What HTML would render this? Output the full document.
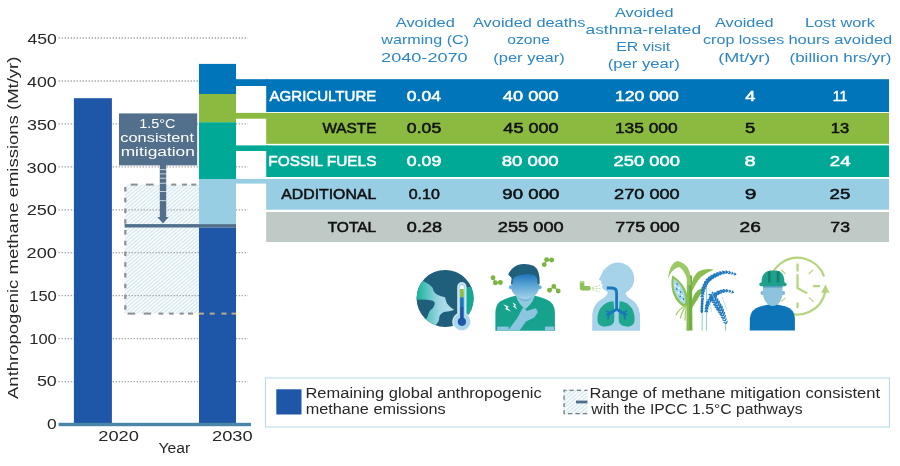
<!DOCTYPE html>
<html lang="en">
<head>
<meta charset="utf-8">
<title>Methane mitigation benefits</title>
<style>
html,body{margin:0;padding:0;background:#fff;}
body{width:900px;height:466px;overflow:hidden;}
svg{display:block;}
</style>
</head>
<body>
<svg width="900" height="466" viewBox="0 0 900 466" font-family="'Liberation Sans', Arial, sans-serif">
<defs>
<pattern id="hatch" width="2.8" height="2.8" patternUnits="userSpaceOnUse" patternTransform="rotate(-40)">
<rect width="2.8" height="2.8" fill="#f6fbfd"/>
<rect width="2.8" height="0.9" fill="#d0e3eb"/>
</pattern>
</defs>
<rect width="900" height="466" fill="#fff"/>
<g stroke="#a6a6a6" stroke-width="1.3" stroke-dasharray="1.4 1.6">
<line x1="58.6" x2="248" y1="381.6" y2="381.6"/>
<line x1="58.6" x2="248" y1="338.6" y2="338.6"/>
<line x1="58.6" x2="248" y1="295.7" y2="295.7"/>
<line x1="58.6" x2="248" y1="252.7" y2="252.7"/>
<line x1="58.6" x2="248" y1="209.8" y2="209.8"/>
<line x1="58.6" x2="248" y1="166.9" y2="166.9"/>
<line x1="58.6" x2="248" y1="123.9" y2="123.9"/>
<line x1="58.6" x2="248" y1="81.0" y2="81.0"/>
<line x1="58.6" x2="248" y1="38.0" y2="38.0"/>
</g>
<rect x="124.6" y="184.6" width="75" height="129" fill="url(#hatch)"/>
<g stroke="#a6a6a6" stroke-width="1.3" stroke-dasharray="1.4 1.6">
<line x1="125.5" x2="199" y1="295.7" y2="295.7"/>
<line x1="125.5" x2="199" y1="252.7" y2="252.7"/>
<line x1="125.5" x2="199" y1="209.8" y2="209.8"/>
</g>
<rect x="130.7" y="183.6" width="7.0" height="2.0" fill="#8a8f90"/>
<rect x="146.0" y="183.6" width="7.6" height="2.0" fill="#8a8f90"/>
<rect x="160.0" y="183.6" width="6.0" height="2.0" fill="#8a8f90"/>
<rect x="171.2" y="183.6" width="5.0" height="2.0" fill="#8a8f90"/>
<rect x="182.0" y="183.6" width="5.0" height="2.0" fill="#8a8f90"/>
<rect x="191.3" y="183.6" width="5.0" height="2.0" fill="#8a8f90"/>
<rect x="127.6" y="312.6" width="7.6" height="2.0" fill="#8a8f90"/>
<rect x="143.6" y="312.6" width="7.5" height="2.0" fill="#8a8f90"/>
<rect x="158.6" y="312.6" width="4.7" height="2.0" fill="#8a8f90"/>
<rect x="169.0" y="312.6" width="4.7" height="2.0" fill="#8a8f90"/>
<rect x="179.6" y="312.6" width="4.2" height="2.0" fill="#8a8f90"/>
<rect x="187.9" y="312.6" width="5.1" height="2.0" fill="#8a8f90"/>
<path d="M125.3 187V313" stroke="#8a8f90" stroke-width="2.2" stroke-dasharray="4.5 6.25" fill="none"/>
<rect x="73.9" y="98.2" width="38" height="324.8" fill="#1f57a8"/>
<rect x="199" y="63.9" width="37" height="30.2" fill="#0075b9"/>
<rect x="199" y="94" width="37" height="28.5" fill="#8aba40"/>
<rect x="199" y="122.3" width="37" height="57" fill="#00a996"/>
<rect x="199" y="179" width="37" height="45.3" fill="#97cee3"/>
<rect x="199" y="227.4" width="37" height="195.6" fill="#1f57a8"/>
<rect x="198.8" y="312.6" width="5.1" height="2.0" fill="#b9ab8c"/>
<rect x="209.7" y="312.6" width="5.0" height="2.0" fill="#b9ab8c"/>
<rect x="221.4" y="312.6" width="5.1" height="2.0" fill="#b9ab8c"/>
<rect x="231.5" y="312.6" width="4.7" height="2.0" fill="#b9ab8c"/>
<rect x="124.6" y="224.1" width="111.4" height="3.4" fill="#52708c"/>
<rect x="119" y="113.4" width="78.2" height="52" fill="#52708c"/>
<rect x="159.8" y="165" width="6.4" height="53" fill="#52708c"/>
<rect x="159.8" y="169.3" width="6.4" height="0.8" fill="#dfe8ee"/>
<rect x="159.8" y="173.5" width="6.4" height="0.8" fill="#dfe8ee"/>
<rect x="159.8" y="177.8" width="6.4" height="0.8" fill="#dfe8ee"/>
<rect x="159.8" y="182.8" width="6.4" height="0.8" fill="#dfe8ee"/>
<rect x="159.8" y="191.2" width="6.4" height="0.8" fill="#dfe8ee"/>
<rect x="159.8" y="200.3" width="6.4" height="0.8" fill="#dfe8ee"/>
<path d="M157.3 217H168.7L163 223.4Z" fill="#52708c"/>
<text x="139.15" y="127.60" font-size="13.7" textLength="36.30" lengthAdjust="spacingAndGlyphs" fill="#fff">1.5°C</text>
<text x="120.34" y="141.90" font-size="13.7" textLength="73.70" lengthAdjust="spacingAndGlyphs" fill="#fff">consistent</text>
<text x="120.66" y="156.10" font-size="13.7" textLength="74.26" lengthAdjust="spacingAndGlyphs" fill="#fff">mitigation</text>
<rect x="58.6" y="422.8" width="192.4" height="3.4" fill="#4a86a8"/>
<text x="27.42" y="44.26" font-size="14" textLength="29.38" lengthAdjust="spacingAndGlyphs" fill="#272727">450</text>
<text x="27.12" y="87.02" font-size="14" textLength="29.59" lengthAdjust="spacingAndGlyphs" fill="#272727">400</text>
<text x="26.96" y="129.78" font-size="14" textLength="29.85" lengthAdjust="spacingAndGlyphs" fill="#272727">350</text>
<text x="26.55" y="172.54" font-size="14" textLength="30.38" lengthAdjust="spacingAndGlyphs" fill="#272727">300</text>
<text x="26.69" y="215.30" font-size="14" textLength="30.23" lengthAdjust="spacingAndGlyphs" fill="#272727">250</text>
<text x="26.59" y="258.06" font-size="14" textLength="30.23" lengthAdjust="spacingAndGlyphs" fill="#272727">200</text>
<text x="29.26" y="300.82" font-size="14" textLength="27.49" lengthAdjust="spacingAndGlyphs" fill="#272727">150</text>
<text x="29.26" y="343.58" font-size="14" textLength="27.49" lengthAdjust="spacingAndGlyphs" fill="#272727">100</text>
<text x="36.90" y="386.34" font-size="14" textLength="19.87" lengthAdjust="spacingAndGlyphs" fill="#272727">50</text>
<text x="47.08" y="429.10" font-size="14" textLength="9.69" lengthAdjust="spacingAndGlyphs" fill="#272727">0</text>
<text x="98.29" y="441.30" font-size="14" textLength="40.62" lengthAdjust="spacingAndGlyphs" fill="#272727">2020</text>
<text x="211.98" y="441.30" font-size="14" textLength="40.73" lengthAdjust="spacingAndGlyphs" fill="#272727">2030</text>
<text x="158.46" y="453.00" font-size="14" textLength="31.75" lengthAdjust="spacingAndGlyphs" fill="#272727">Year</text>
<g transform="translate(17.6 399) rotate(-90)">
<text x="0.00" y="0.00" font-size="14" textLength="342.44" lengthAdjust="spacingAndGlyphs" fill="#272727">Anthropogenic methane emissions (Mt/yr)</text>
</g>
<rect x="266.2" y="79.2" width="622.8" height="32.8" fill="#0075b9"/>
<rect x="235.5" y="79.2" width="32" height="6.8" fill="#0075b9"/>
<rect x="266.2" y="112.9" width="622.8" height="30.9" fill="#8aba40"/>
<rect x="235.5" y="112.9" width="32" height="5.8" fill="#8aba40"/>
<rect x="266.2" y="145.4" width="622.8" height="31.6" fill="#00a996"/>
<rect x="235.5" y="145.4" width="32" height="5.6" fill="#00a996"/>
<rect x="266.2" y="178.9" width="622.8" height="30.8" fill="#97cee3"/>
<rect x="235.5" y="178.9" width="32" height="4.7" fill="#97cee3"/>
<rect x="266.2" y="212" width="622.8" height="30.0" fill="#bfc9c6"/>
<text x="269.50" y="100.50" font-size="14" textLength="106.90" lengthAdjust="spacingAndGlyphs" fill="#fff" stroke="#fff" stroke-width="0.5">AGRICULTURE</text>
<text x="406.87" y="100.50" font-size="14" textLength="34.12" lengthAdjust="spacingAndGlyphs" fill="#fff" stroke="#fff" stroke-width="0.5">0.04</text>
<text x="502.86" y="100.50" font-size="14" textLength="55.82" lengthAdjust="spacingAndGlyphs" fill="#fff" stroke="#fff" stroke-width="0.5">40 000</text>
<text x="614.93" y="100.50" font-size="14" textLength="63.77" lengthAdjust="spacingAndGlyphs" fill="#fff" stroke="#fff" stroke-width="0.5">120 000</text>
<text x="745.36" y="100.50" font-size="14" textLength="10.14" lengthAdjust="spacingAndGlyphs" fill="#fff" stroke="#fff" stroke-width="0.5">4</text>
<text x="832.74" y="100.50" font-size="14" textLength="14.70" lengthAdjust="spacingAndGlyphs" fill="#fff" stroke="#fff" stroke-width="0.5">11</text>
<text x="322.45" y="133.20" font-size="14" textLength="53.97" lengthAdjust="spacingAndGlyphs" fill="#111" stroke="#111" stroke-width="0.5">WASTE</text>
<text x="406.87" y="133.20" font-size="14" textLength="34.39" lengthAdjust="spacingAndGlyphs" fill="#111" stroke="#111" stroke-width="0.5">0.05</text>
<text x="503.36" y="133.20" font-size="14" textLength="55.31" lengthAdjust="spacingAndGlyphs" fill="#111" stroke="#111" stroke-width="0.5">45 000</text>
<text x="614.95" y="133.20" font-size="14" textLength="62.74" lengthAdjust="spacingAndGlyphs" fill="#111" stroke="#111" stroke-width="0.5">135 000</text>
<text x="745.03" y="133.20" font-size="14" textLength="10.24" lengthAdjust="spacingAndGlyphs" fill="#111" stroke="#111" stroke-width="0.5">5</text>
<text x="830.76" y="133.20" font-size="14" textLength="18.42" lengthAdjust="spacingAndGlyphs" fill="#111" stroke="#111" stroke-width="0.5">13</text>
<text x="268.29" y="166.00" font-size="14" textLength="108.16" lengthAdjust="spacingAndGlyphs" fill="#fff" stroke="#fff" stroke-width="0.5">FOSSIL FUELS</text>
<text x="406.87" y="166.00" font-size="14" textLength="34.45" lengthAdjust="spacingAndGlyphs" fill="#fff" stroke="#fff" stroke-width="0.5">0.09</text>
<text x="501.70" y="166.00" font-size="14" textLength="56.99" lengthAdjust="spacingAndGlyphs" fill="#fff" stroke="#fff" stroke-width="0.5">80 000</text>
<text x="613.58" y="166.00" font-size="14" textLength="66.40" lengthAdjust="spacingAndGlyphs" fill="#fff" stroke="#fff" stroke-width="0.5">250 000</text>
<text x="744.64" y="166.00" font-size="14" textLength="11.21" lengthAdjust="spacingAndGlyphs" fill="#fff" stroke="#fff" stroke-width="0.5">8</text>
<text x="829.87" y="166.00" font-size="14" textLength="20.73" lengthAdjust="spacingAndGlyphs" fill="#fff" stroke="#fff" stroke-width="0.5">24</text>
<text x="281.25" y="199.10" font-size="14" textLength="94.97" lengthAdjust="spacingAndGlyphs" fill="#111" stroke="#111" stroke-width="0.5">ADDITIONAL</text>
<text x="408.68" y="199.10" font-size="14" textLength="31.20" lengthAdjust="spacingAndGlyphs" fill="#111" stroke="#111" stroke-width="0.5">0.10</text>
<text x="502.38" y="199.10" font-size="14" textLength="57.06" lengthAdjust="spacingAndGlyphs" fill="#111" stroke="#111" stroke-width="0.5">90 000</text>
<text x="614.09" y="199.10" font-size="14" textLength="65.63" lengthAdjust="spacingAndGlyphs" fill="#111" stroke="#111" stroke-width="0.5">270 000</text>
<text x="744.77" y="199.10" font-size="14" textLength="11.68" lengthAdjust="spacingAndGlyphs" fill="#111" stroke="#111" stroke-width="0.5">9</text>
<text x="829.57" y="199.10" font-size="14" textLength="20.69" lengthAdjust="spacingAndGlyphs" fill="#111" stroke="#111" stroke-width="0.5">25</text>
<text x="327.67" y="231.90" font-size="14" textLength="48.55" lengthAdjust="spacingAndGlyphs" fill="#111" stroke="#111" stroke-width="0.5">TOTAL</text>
<text x="406.85" y="231.90" font-size="14" textLength="35.17" lengthAdjust="spacingAndGlyphs" fill="#111" stroke="#111" stroke-width="0.5">0.28</text>
<text x="497.84" y="231.90" font-size="14" textLength="65.88" lengthAdjust="spacingAndGlyphs" fill="#111" stroke="#111" stroke-width="0.5">255 000</text>
<text x="615.36" y="231.90" font-size="14" textLength="64.35" lengthAdjust="spacingAndGlyphs" fill="#111" stroke="#111" stroke-width="0.5">775 000</text>
<text x="739.55" y="231.90" font-size="14" textLength="21.23" lengthAdjust="spacingAndGlyphs" fill="#111" stroke="#111" stroke-width="0.5">26</text>
<text x="830.37" y="231.90" font-size="14" textLength="19.60" lengthAdjust="spacingAndGlyphs" fill="#111" stroke="#111" stroke-width="0.5">73</text>
<text x="395.75" y="27.00" font-size="13.6" textLength="59.03" lengthAdjust="spacingAndGlyphs" fill="#2b86c6">Avoided</text>
<text x="381.31" y="44.30" font-size="13.6" textLength="87.70" lengthAdjust="spacingAndGlyphs" fill="#2b86c6">warming (C)</text>
<text x="381.14" y="61.50" font-size="13.6" textLength="86.52" lengthAdjust="spacingAndGlyphs" fill="#2b86c6">2040-2070</text>
<text x="473.00" y="27.00" font-size="13.6" textLength="112.56" lengthAdjust="spacingAndGlyphs" fill="#2b86c6">Avoided deaths</text>
<text x="507.37" y="44.30" font-size="13.6" textLength="42.52" lengthAdjust="spacingAndGlyphs" fill="#2b86c6">ozone</text>
<text x="493.28" y="61.50" font-size="13.6" textLength="71.50" lengthAdjust="spacingAndGlyphs" fill="#2b86c6">(per year)</text>
<text x="615.00" y="17.00" font-size="13.6" textLength="58.52" lengthAdjust="spacingAndGlyphs" fill="#2b86c6">Avoided</text>
<text x="585.55" y="34.25" font-size="13.6" textLength="115.55" lengthAdjust="spacingAndGlyphs" fill="#2b86c6">asthma-related</text>
<text x="616.21" y="51.25" font-size="13.6" textLength="53.90" lengthAdjust="spacingAndGlyphs" fill="#2b86c6">ER visit</text>
<text x="607.77" y="68.25" font-size="13.6" textLength="72.02" lengthAdjust="spacingAndGlyphs" fill="#2b86c6">(per year)</text>
<text x="715.00" y="27.00" font-size="13.6" textLength="58.52" lengthAdjust="spacingAndGlyphs" fill="#2b86c6">Avoided</text>
<text x="703.10" y="44.30" font-size="13.6" textLength="81.16" lengthAdjust="spacingAndGlyphs" fill="#2b86c6">crop losses</text>
<text x="718.19" y="61.50" font-size="13.6" textLength="52.16" lengthAdjust="spacingAndGlyphs" fill="#2b86c6">(Mt/yr)</text>
<text x="804.93" y="27.00" font-size="13.6" textLength="70.01" lengthAdjust="spacingAndGlyphs" fill="#2b86c6">Lost work</text>
<text x="788.41" y="44.30" font-size="13.6" textLength="103.87" lengthAdjust="spacingAndGlyphs" fill="#2b86c6">hours avoided</text>
<text x="789.50" y="61.50" font-size="13.6" textLength="102.02" lengthAdjust="spacingAndGlyphs" fill="#2b86c6">(billion hrs/yr)</text>
<rect x="265.5" y="378" width="624" height="49" fill="#fff" stroke="#b5d9e8" stroke-width="1"/>
<rect x="276.3" y="389.3" width="25.2" height="25.2" fill="#1f57a8"/>
<text x="305.46" y="397.50" font-size="14" textLength="236.26" lengthAdjust="spacingAndGlyphs" fill="#272727">Remaining global anthropogenic</text>
<text x="305.71" y="414.25" font-size="14" textLength="139.89" lengthAdjust="spacingAndGlyphs" fill="#272727">methane emissions</text>
<rect x="563.3" y="389.5" width="24.2" height="25" fill="url(#hatch)"/>
<path d="M587.5 390.3H564.1V413.7H587.5" fill="none" stroke="#6f7d84" stroke-width="1.3" stroke-dasharray="4.2 3.2" stroke-dashoffset="1"/>
<rect x="576" y="400.6" width="11.5" height="2.8" fill="#52708c"/>
<text x="589.45" y="397.50" font-size="14" textLength="290.63" lengthAdjust="spacingAndGlyphs" fill="#272727">Range of methane mitigation consistent</text>
<text x="591.31" y="414.25" font-size="14" textLength="211.23" lengthAdjust="spacingAndGlyphs" fill="#272727">with the IPCC 1.5°C pathways</text>
<defs>
<linearGradient id="landg" gradientUnits="userSpaceOnUse" x1="417" y1="300" x2="453" y2="300">
<stop offset="0" stop-color="#18b29d"/><stop offset="0.3" stop-color="#5cc5c1"/><stop offset="0.62" stop-color="#9fd6e3"/><stop offset="1" stop-color="#b8e0ee"/>
</linearGradient>
<clipPath id="globeclip"><circle cx="445.1" cy="298.4" r="28.5"/></clipPath>
<linearGradient id="faceg" gradientUnits="userSpaceOnUse" x1="0" y1="272" x2="0" y2="300">
<stop offset="0.05" stop-color="#1a72b8"/><stop offset="0.5" stop-color="#5ea7d6"/><stop offset="1" stop-color="#a9d6ea"/>
</linearGradient>
</defs>
<!-- icon 1: globe + thermometer -->
<g id="icon-globe">
<circle cx="445.1" cy="298.4" r="28.5" fill="#1f5f7b"/>
<g clip-path="url(#globeclip)">
<path d="M410,268 L423,281 Q428,283 432.5,287.5 Q433,291.5 436,294 Q440,296.5 445,297.3 Q446,301 447,303.5 Q449,306.5 454.3,310.1 Q449,311.5 444,312 Q440,314 439.3,317 Q439.5,321.5 435,325.5 L430,334 L416,326 L427,318 Q428.5,313 430,310.5 Q434.5,307.5 434.8,303 Q434,300.5 430,300.2 Q424,299 414,300 L406,300 Z" fill="url(#landg)"/>
<path d="M463,288.5 Q470,285.5 476,289 L480,300 L470,316 Q466,312.5 463,312.5 Z" fill="#18a695"/>
</g>
<path d="M457.8,286.7 a4.05,4.05 0 0 1 8.1,0 V313.8 a9,9 0 1 1 -8.1,0 Z" fill="#a8d7eb" stroke="#ffffff" stroke-opacity="0.75" stroke-width="1.2"/>
<rect x="460.1" y="285.3" width="3.6" height="8" rx="1.8" fill="#ffffff"/>
<rect x="460.1" y="289" width="3.6" height="8.4" fill="#8cbb3f"/>
<rect x="460.1" y="297.3" width="3.6" height="9.8" fill="#1a76bc"/>
<rect x="460.1" y="307" width="3.6" height="13" fill="#1f56a8"/>
<circle cx="461.9" cy="321.8" r="4.1" fill="#1f56a8"/>
</g>
<!-- icon 2: person with chest pain -->
<g id="icon-person">
<path d="M495.4,330.7 V312.5 Q495.6,305 500,301.5 Q505,298 517.7,295.2 L533.4,295.2 Q545,298 550,301.5 Q554.7,305 554.9,312.5 V330.7 Z" fill="#16a28d"/>
<rect x="497.1" y="326.6" width="11.6" height="4.1" fill="#8cc5df"/>
<rect x="545" y="326.6" width="9.1" height="4.1" fill="#8cc5df"/>
<path d="M516.2,293 L516.4,297 Q519,304.5 525.2,309 Q531.5,304.5 534.4,297 L534.6,293 Z" fill="#93cae2"/>
<path d="M518,297.5 Q525.4,305.5 532.6,297.5 L531.5,295 H519.2 Z" fill="#74b6d9"/>
<path d="M508.2,274.5 Q511,268 517,265.2 Q525.5,262.3 534,266 Q540.2,270 539.6,284 L511,284 L511.6,278 Z" fill="#1f5f7b"/>
<circle cx="510.8" cy="287.3" r="2" fill="#6cb0da"/>
<circle cx="539.6" cy="287.3" r="2" fill="#6cb0da"/>
<path d="M512.6,283.4 L512.8,279 Q515,276 519,275.3 Q527,273 533,274.5 Q537,276 537.4,280 L537.6,283.4 L539,284 L539,288.5 Q538,294 532,297.6 Q525.5,301.4 519,297.6 Q512,294 511.3,288.5 L511.3,284 Z" fill="url(#faceg)"/>
<path d="M507.8,330.7 L517.7,317.5 L521,310.9 Q522.5,307.2 524.5,308 L526.8,310.9 L535.2,308.3 Q537.8,309.5 537.6,312.5 L534.3,317.5 L526,321.6 L519.4,330.7 Z" fill="#8cc5df"/>
<path d="M503.2,304.2 L508.6,306.6 L507.3,307.9 L511,311.6 L505.2,308.9 L506.5,307.6 Z" fill="#ffffff"/>
<path d="M512.6,302.2 L516,304.8 L515,305.8 L517.2,309.4 L513.2,306.4 L514.2,305.4 Z" fill="#ffffff"/>
<g fill="#7ab53f" stroke="#7ab53f" stroke-width="1.1">
<path d="M493,277.8 L495.4,282.8 L500.4,282.5" fill="none"/>
<circle cx="493" cy="277.8" r="1.9"/><circle cx="495.4" cy="282.8" r="1.9"/><circle cx="500.4" cy="282.5" r="1.9"/>
<path d="M544.2,264.6 L546.6,259.7 L551.6,260" fill="none"/>
<circle cx="544.2" cy="264.6" r="1.9"/><circle cx="546.6" cy="259.7" r="1.9"/><circle cx="551.6" cy="260" r="1.9"/>
<path d="M549.5,290.2 L553.8,286.4 L558.2,291" fill="none"/>
<circle cx="549.5" cy="290.2" r="1.9"/><circle cx="553.8" cy="286.4" r="1.9"/><circle cx="558.2" cy="291" r="1.9"/>
</g>
</g>
<!-- icon 3: lungs -->
<g id="icon-lungs">
<circle cx="618" cy="278.6" r="16.2" fill="#a6d3ea"/>
<path d="M604,269 L598.8,279.8 L601.8,281.2 L600.8,283.2 L603.2,284.4 L601.8,286.4 L603,289 L609,293 L614,280 Z" fill="#a6d3ea"/>
<path d="M607.6,288 V293 Q606.5,296.5 601,299.5 Q593.5,304 592.3,314 L592.2,330.7 H640.1 L640,314 Q638.8,304 631.5,299.5 Q625.8,296.5 625.2,292 V286 Z" fill="#a6d3ea"/>
<path d="M613.6,301.2 Q605,301.5 600.2,308.5 Q596.6,315 597.6,321.8 Q599,327 605.5,326.6 Q612.5,326 614,322 Q614.6,318 614.2,312 Z" fill="#1ea68f"/>
<path d="M619.6,301.2 Q627.5,301.5 632,308.5 Q635.4,315 634.4,321.8 Q633,327 626.8,326.6 Q620.4,326 619,322 Q618.4,318 618.8,312 Z" fill="#1ea68f"/>
<g fill="none" stroke="#1a76bc" stroke-width="2.8" stroke-linejoin="round">
<path d="M606.8,288 H611.8 Q616.6,288 616.6,292.8 V310.6"/>
<path d="M616.6,309.2 L606.6,315.4"/><path d="M616.6,309.2 L626.6,315.4"/>
<path d="M610.6,313 L606,311" stroke-width="1.7"/><path d="M609,314 L608,319.5" stroke-width="1.7"/>
<path d="M622.6,313 L627.2,311" stroke-width="1.7"/><path d="M624.2,314 L625.2,319.5" stroke-width="1.7"/>
</g>
<path d="M579.8,282.6 Q579.8,281 581.4,281 H582.8 Q584.4,281 584.4,282.6 V286 H589 Q590.6,286 590.6,287.6 V288.8 Q590.6,290.4 589,290.4 H582 Q579.8,290.4 579.8,288 Z" fill="#8cc05a"/>
<rect x="580.3" y="281" width="3.6" height="2.2" rx="1" fill="#b5d88f"/>
<g stroke="#a8d07f" stroke-width="0.8" stroke-dasharray="2 1.4" fill="none">
<path d="M592.2,287.4 L600.4,285.2"/><path d="M592.2,288.6 L600.6,288.6"/><path d="M592.2,289.8 L599.8,292"/>
</g>
</g>
<!-- icon 4: crops -->
<g id="icon-crops">
<path d="M687,276 Q689.5,274 692,276 L692.4,330.6 H686.7 Z" fill="#6fae3f"/>
<path d="M687,276 Q688,275 689.2,274.8 L689,330.6 H686.7 Z" fill="#86bd50"/>
<path d="M691,285 L690.4,277.2 Q689.8,271 687.6,267.6 Q684.5,262.6 677.3,260.9 Q673.3,262.3 671.8,265.3 Q669,270 667.9,279 Q670.5,272.3 673.9,269.8 Q676.5,267.4 679,267 Q681.5,268 683.2,270.8 Q685.5,274.3 686.6,277.5 L687.2,285 Z" fill="#9bc964"/>
<path d="M691.4,286 Q692.5,276.5 698.3,271.6 Q704.5,267.8 714,269.4 Q706.5,272.5 701,277 Q696.3,282 692.4,291 Z" fill="#8bc04f"/>
<path d="M691.4,303 Q692.8,295 697.5,290.6 Q700.5,288.3 704,287.2 Q702.3,292 699.3,296.6 Q696,302 692,308 Z" fill="#7db848"/>
<g transform="translate(679.1 291.4) rotate(-23)">
<path d="M0,-17.6 Q8,-6 6.2,6 Q4,15.5 0,17.6 Q-4,15.5 -6.2,6 Q-8,-6 0,-17.6Z" fill="#8bc04f"/>
<path d="M0,-14 Q5.4,-5 4,5 Q2.6,12 0,14 Q-2.6,12 -4,5 Q-5.4,-5 0,-14Z" fill="#a9daee"/>
<g fill="#ffffff"><circle cx="-1" cy="-7" r="0.9"/><circle cx="1.2" cy="-3" r="0.9"/><circle cx="-1.2" cy="1" r="0.9"/><circle cx="1" cy="5" r="0.9"/><circle cx="-0.5" cy="9" r="0.8"/></g>
<g fill="#1a76bc"><circle cx="1" cy="-7.5" r="0.8"/><circle cx="-1.2" cy="-3" r="0.8"/><circle cx="1.2" cy="1.2" r="0.8"/><circle cx="-1" cy="5" r="0.8"/><circle cx="1" cy="8.8" r="0.8"/></g>
</g>
<g stroke="#a6cf72" stroke-width="1.3" fill="none" stroke-linecap="round">
<path d="M685,306 Q679,309 676,315"/><path d="M685.5,307 Q682,311 680.5,318"/><path d="M686.5,307.5 Q685,313 685,320"/>
</g>
<g stroke="#86cbcf" stroke-width="1" fill="none">
<path d="M702.2,330.6 V296"/><path d="M706.4,330.6 V285"/><path d="M725.6,330.6 V322"/>
</g>
<g fill="#1f78be">
<ellipse cx="702.8" cy="296.0" rx="1.72" ry="0.86" transform="rotate(-115 702.8 296.0)"/><ellipse cx="701.7" cy="295.9" rx="1.72" ry="0.86" transform="rotate(-51 701.7 295.9)"/><ellipse cx="703.3" cy="293.1" rx="1.87" ry="0.94" transform="rotate(-113 703.3 293.1)"/><ellipse cx="702.0" cy="292.9" rx="1.87" ry="0.94" transform="rotate(-49 702.0 292.9)"/><ellipse cx="703.8" cy="290.4" rx="2.01" ry="1.00" transform="rotate(-108 703.8 290.4)"/><ellipse cx="702.5" cy="290.0" rx="2.01" ry="1.00" transform="rotate(-44 702.5 290.0)"/><ellipse cx="704.7" cy="287.7" rx="2.12" ry="1.06" transform="rotate(-102 704.7 287.7)"/><ellipse cx="703.3" cy="287.2" rx="2.12" ry="1.06" transform="rotate(-38 703.3 287.2)"/><ellipse cx="705.8" cy="285.1" rx="2.21" ry="1.10" transform="rotate(-97 705.8 285.1)"/><ellipse cx="704.4" cy="284.4" rx="2.21" ry="1.10" transform="rotate(-33 704.4 284.4)"/><ellipse cx="707.2" cy="282.7" rx="2.27" ry="1.13" transform="rotate(-89 707.2 282.7)"/><ellipse cx="705.9" cy="281.8" rx="2.27" ry="1.13" transform="rotate(-25 705.9 281.8)"/><ellipse cx="708.9" cy="280.5" rx="2.30" ry="1.15" transform="rotate(-77 708.9 280.5)"/><ellipse cx="707.8" cy="279.4" rx="2.30" ry="1.15" transform="rotate(-13 707.8 279.4)"/><ellipse cx="711.0" cy="278.7" rx="2.29" ry="1.15" transform="rotate(-68 711.0 278.7)"/><ellipse cx="710.1" cy="277.4" rx="2.29" ry="1.15" transform="rotate(-4 710.1 277.4)"/><ellipse cx="713.4" cy="277.2" rx="2.26" ry="1.13" transform="rotate(-62 713.4 277.2)"/><ellipse cx="712.6" cy="275.8" rx="2.26" ry="1.13" transform="rotate(2 712.6 275.8)"/><ellipse cx="715.9" cy="275.8" rx="2.19" ry="1.10" transform="rotate(-57 715.9 275.8)"/><ellipse cx="715.2" cy="274.5" rx="2.19" ry="1.10" transform="rotate(7 715.2 274.5)"/><ellipse cx="718.5" cy="274.7" rx="2.10" ry="1.05" transform="rotate(-54 718.5 274.7)"/><ellipse cx="717.9" cy="273.3" rx="2.10" ry="1.05" transform="rotate(10 717.9 273.3)"/><ellipse cx="721.1" cy="273.7" rx="1.98" ry="0.99" transform="rotate(-48 721.1 273.7)"/><ellipse cx="720.8" cy="272.4" rx="1.98" ry="0.99" transform="rotate(16 720.8 272.4)"/><ellipse cx="723.9" cy="273.0" rx="1.84" ry="0.92" transform="rotate(-41 723.9 273.0)"/><ellipse cx="723.7" cy="271.8" rx="1.84" ry="0.92" transform="rotate(23 723.7 271.8)"/><ellipse cx="726.6" cy="272.8" rx="1.69" ry="0.84" transform="rotate(-29 726.6 272.8)"/><ellipse cx="726.7" cy="271.6" rx="1.69" ry="0.84" transform="rotate(35 726.7 271.6)"/><ellipse cx="729.4" cy="273.2" rx="1.52" ry="0.76" transform="rotate(-20 729.4 273.2)"/><ellipse cx="729.6" cy="272.1" rx="1.52" ry="0.76" transform="rotate(44 729.6 272.1)"/><ellipse cx="732.2" cy="273.8" rx="1.38" ry="0.69" transform="rotate(-15 732.2 273.8)"/><ellipse cx="732.5" cy="272.9" rx="1.38" ry="0.69" transform="rotate(49 732.5 272.9)"/><ellipse cx="735.0" cy="274.7" rx="1.38" ry="0.69" transform="rotate(-15 735.0 274.7)"/><ellipse cx="735.2" cy="273.8" rx="1.38" ry="0.69" transform="rotate(49 735.2 273.8)"/>
<ellipse cx="706.9" cy="310.9" rx="1.72" ry="0.86" transform="rotate(-116 706.9 310.9)"/><ellipse cx="705.7" cy="310.8" rx="1.72" ry="0.86" transform="rotate(-52 705.7 310.8)"/><ellipse cx="707.3" cy="308.0" rx="1.90" ry="0.95" transform="rotate(-114 707.3 308.0)"/><ellipse cx="706.0" cy="307.8" rx="1.90" ry="0.95" transform="rotate(-50 706.0 307.8)"/><ellipse cx="707.9" cy="305.3" rx="2.06" ry="1.03" transform="rotate(-107 707.9 305.3)"/><ellipse cx="706.5" cy="304.9" rx="2.06" ry="1.03" transform="rotate(-43 706.5 304.9)"/><ellipse cx="709.0" cy="302.8" rx="2.19" ry="1.09" transform="rotate(-95 709.0 302.8)"/><ellipse cx="707.7" cy="302.1" rx="2.19" ry="1.09" transform="rotate(-31 707.7 302.1)"/><ellipse cx="710.6" cy="300.5" rx="2.27" ry="1.13" transform="rotate(-86 710.6 300.5)"/><ellipse cx="709.3" cy="299.5" rx="2.27" ry="1.13" transform="rotate(-22 709.3 299.5)"/><ellipse cx="712.4" cy="298.3" rx="2.30" ry="1.15" transform="rotate(-79 712.4 298.3)"/><ellipse cx="711.2" cy="297.2" rx="2.30" ry="1.15" transform="rotate(-15 711.2 297.2)"/><ellipse cx="714.4" cy="296.3" rx="2.28" ry="1.14" transform="rotate(-73 714.4 296.3)"/><ellipse cx="713.3" cy="295.1" rx="2.28" ry="1.14" transform="rotate(-9 713.3 295.1)"/><ellipse cx="716.6" cy="294.6" rx="2.22" ry="1.11" transform="rotate(-66 716.6 294.6)"/><ellipse cx="715.7" cy="293.3" rx="2.22" ry="1.11" transform="rotate(-2 715.7 293.3)"/><ellipse cx="719.0" cy="293.2" rx="2.12" ry="1.06" transform="rotate(-56 719.0 293.2)"/><ellipse cx="718.4" cy="291.9" rx="2.12" ry="1.06" transform="rotate(8 718.4 291.9)"/><ellipse cx="721.6" cy="292.2" rx="1.97" ry="0.99" transform="rotate(-49 721.6 292.2)"/><ellipse cx="721.2" cy="290.8" rx="1.97" ry="0.99" transform="rotate(15 721.2 290.8)"/><ellipse cx="724.3" cy="291.5" rx="1.80" ry="0.90" transform="rotate(-41 724.3 291.5)"/><ellipse cx="724.1" cy="290.2" rx="1.80" ry="0.90" transform="rotate(23 724.1 290.2)"/><ellipse cx="727.0" cy="291.3" rx="1.60" ry="0.80" transform="rotate(-25 727.0 291.3)"/><ellipse cx="727.1" cy="290.2" rx="1.60" ry="0.80" transform="rotate(39 727.1 290.2)"/><ellipse cx="729.8" cy="291.8" rx="1.39" ry="0.69" transform="rotate(-18 729.8 291.8)"/><ellipse cx="730.0" cy="290.8" rx="1.39" ry="0.69" transform="rotate(46 730.0 290.8)"/><ellipse cx="732.5" cy="292.6" rx="1.38" ry="0.69" transform="rotate(-14 732.5 292.6)"/><ellipse cx="732.8" cy="291.7" rx="1.38" ry="0.69" transform="rotate(50 732.8 291.7)"/>
<ellipse cx="710.3" cy="294.9" rx="2.17" ry="0.82" transform="rotate(17 710.3 294.9)"/><ellipse cx="712.5" cy="293.7" rx="2.17" ry="0.82" transform="rotate(101 712.5 293.7)"/><ellipse cx="711.6" cy="297.5" rx="2.44" ry="0.93" transform="rotate(18 711.6 297.5)"/><ellipse cx="714.1" cy="296.1" rx="2.44" ry="0.93" transform="rotate(102 714.1 296.1)"/><ellipse cx="713.0" cy="300.1" rx="2.66" ry="1.01" transform="rotate(18 713.0 300.1)"/><ellipse cx="715.7" cy="298.5" rx="2.66" ry="1.01" transform="rotate(102 715.7 298.5)"/><ellipse cx="714.3" cy="302.6" rx="2.82" ry="1.07" transform="rotate(18 714.3 302.6)"/><ellipse cx="717.2" cy="301.0" rx="2.82" ry="1.07" transform="rotate(102 717.2 301.0)"/><ellipse cx="715.8" cy="305.2" rx="2.89" ry="1.10" transform="rotate(17 715.8 305.2)"/><ellipse cx="718.7" cy="303.4" rx="2.89" ry="1.10" transform="rotate(101 718.7 303.4)"/><ellipse cx="717.2" cy="307.7" rx="2.88" ry="1.09" transform="rotate(18 717.2 307.7)"/><ellipse cx="720.2" cy="306.0" rx="2.88" ry="1.09" transform="rotate(102 720.2 306.0)"/><ellipse cx="718.7" cy="310.1" rx="2.79" ry="1.06" transform="rotate(19 718.7 310.1)"/><ellipse cx="721.6" cy="308.5" rx="2.79" ry="1.06" transform="rotate(103 721.6 308.5)"/><ellipse cx="720.1" cy="312.6" rx="2.62" ry="0.99" transform="rotate(22 720.1 312.6)"/><ellipse cx="722.8" cy="311.2" rx="2.62" ry="0.99" transform="rotate(106 722.8 311.2)"/><ellipse cx="721.4" cy="315.1" rx="2.39" ry="0.91" transform="rotate(25 721.4 315.1)"/><ellipse cx="723.9" cy="314.0" rx="2.39" ry="0.91" transform="rotate(109 723.9 314.0)"/><ellipse cx="722.6" cy="317.7" rx="2.11" ry="0.80" transform="rotate(26 722.6 317.7)"/><ellipse cx="724.9" cy="316.8" rx="2.11" ry="0.80" transform="rotate(110 724.9 316.8)"/><ellipse cx="723.8" cy="320.3" rx="1.80" ry="0.68" transform="rotate(27 723.8 320.3)"/><ellipse cx="725.8" cy="319.6" rx="1.80" ry="0.68" transform="rotate(111 725.8 319.6)"/><ellipse cx="724.9" cy="323.0" rx="1.74" ry="0.66" transform="rotate(27 724.9 323.0)"/><ellipse cx="726.8" cy="322.3" rx="1.74" ry="0.66" transform="rotate(111 726.8 322.3)"/>
<ellipse cx="702.1" cy="299.4" rx="1.60" ry="0.90" transform="rotate(71 702.1 299.4)"/><ellipse cx="702.9" cy="299.4" rx="1.60" ry="0.90" transform="rotate(121 702.9 299.4)"/><ellipse cx="701.8" cy="301.7" rx="1.60" ry="0.90" transform="rotate(70 701.8 301.7)"/><ellipse cx="702.6" cy="301.8" rx="1.60" ry="0.90" transform="rotate(120 702.6 301.8)"/><ellipse cx="701.7" cy="304.1" rx="1.60" ry="0.90" transform="rotate(69 701.7 304.1)"/><ellipse cx="702.5" cy="304.2" rx="1.60" ry="0.90" transform="rotate(119 702.5 304.2)"/><ellipse cx="701.5" cy="306.6" rx="1.60" ry="0.90" transform="rotate(67 701.5 306.6)"/><ellipse cx="702.3" cy="306.6" rx="1.60" ry="0.90" transform="rotate(117 702.3 306.6)"/><ellipse cx="701.5" cy="309.0" rx="1.60" ry="0.90" transform="rotate(66 701.5 309.0)"/><ellipse cx="702.3" cy="309.0" rx="1.60" ry="0.90" transform="rotate(116 702.3 309.0)"/><ellipse cx="701.4" cy="311.4" rx="1.60" ry="0.90" transform="rotate(66 701.4 311.4)"/><ellipse cx="702.2" cy="311.4" rx="1.60" ry="0.90" transform="rotate(116 702.2 311.4)"/>
</g>
<g stroke="#9fd3e6" stroke-width="0.7" fill="none"><path d="M708,288 Q712,292 714.5,299"/><path d="M709,300 Q711,305 711.5,312"/><path d="M722,297 Q725,303 726.5,310"/></g>

</g>
<!-- icon 5: worker + clock -->
<g id="icon-worker">
<g stroke="#b3d47b" fill="none">
<path d="M824.1,276.4 A28.3,28.3 0 1 0 825.4,291" stroke-width="2.2"/>
<path d="M797.5,263.6 V271.4 M797.5,302.6 V307.9 M813.1,286.1 H820.1" stroke-width="2.2"/>
<path d="M808.8,274 L813.2,269.6 M808.8,297.4 L813.7,301.8 M785.4,274 L781,269.6 M785.4,297.8 L781,301.8" stroke-width="1.1"/>
<path d="M797.5,274.3 V288 L807.3,293.4" stroke-width="2.2" stroke-linejoin="round"/>
</g>
<path d="M821.2,292.8 H829.6 L825.4,284.4 Z" fill="#b3d47b"/>
<path d="M749.7,330.4 L749.9,318 Q751,309 760,306.5 Q766,305 770,304.2 L776,304.2 Q780,305 786,306.5 Q794,309 794.9,318 L794.9,330.4 Z" fill="#0d74b8"/>
<circle cx="762.4" cy="293" r="1.9" fill="#7db5d6"/><circle cx="783.2" cy="293" r="1.9" fill="#7db5d6"/>
<path d="M763,284 H782.5 V294 Q782,301 777,304.6 Q772.7,307.6 768.5,304.6 Q763.5,301 763,294 Z" fill="#8ec3de"/>
<rect x="763" y="284" width="19.5" height="3.6" fill="#5f9fc6"/>
<path d="M761.5,283.5 Q761.3,271.5 770.5,270.6 H776.5 Q784.7,271.5 784.5,283.5 Z" fill="#1ea18b"/>
<rect x="768" y="271.3" width="2.6" height="12" fill="#167f72"/>
<rect x="776.7" y="271.3" width="2.8" height="12" fill="#167f72"/>
<rect x="759.3" y="282.5" width="27.3" height="3.7" rx="1.8" fill="#1ea18b"/>
</g>
</svg>
</body>
</html>
